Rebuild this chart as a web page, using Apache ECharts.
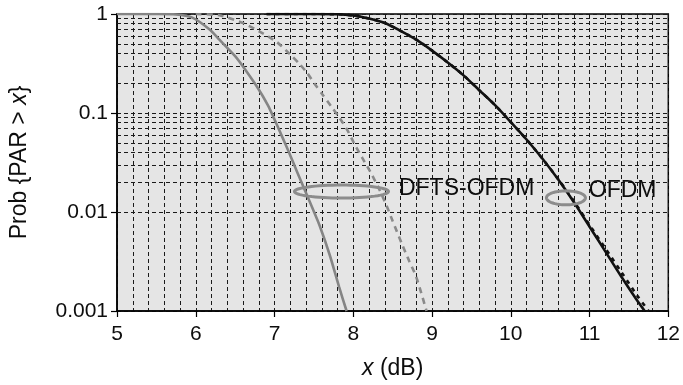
<!DOCTYPE html>
<html>
<head>
<meta charset="utf-8">
<title>PAR CCDF: OFDM vs DFTS-OFDM</title>
<script src="https://cdn.jsdelivr.net/npm/echarts@6/dist/echarts.min.js"></script>
<style>
  html, body { margin: 0; padding: 0; background: #fff; }
  #chart { width: 683px; height: 385px; }
</style>
</head>
<body>
<div id="chart"></div>
<script>
// x axis: peak-to-average ratio threshold (dB)
var xTicks = [5, 6, 7, 8, 9, 10, 11, 12];
// y axis: decades of the log scale and their printed labels
var yTicks = [0.001, 0.01, 0.1, 1];
var yTickLabels = ['0.001', '0.01', '0.1', '1'];
// minor log grid values (2..9 per decade)
var yMinor = [
  0.002, 0.003, 0.004, 0.005, 0.006, 0.007, 0.008, 0.009,
  0.02, 0.03, 0.04, 0.05, 0.06, 0.07, 0.08, 0.09,
  0.2, 0.3, 0.4, 0.5, 0.6, 0.7, 0.8, 0.9
];

// DFTS-OFDM, localized mapping (light grey solid)
var locX = [5.0, 5.5, 5.75, 5.95, 6.18, 6.3, 6.5, 6.62, 6.79, 6.915, 7.0, 7.085, 7.19, 7.275, 7.38, 7.485, 7.57, 7.7, 7.82, 7.915];
var locY = [1.0, 0.9995, 0.99, 0.925, 0.695, 0.55, 0.375, 0.28, 0.178, 0.12, 0.086, 0.0605, 0.039, 0.0267, 0.017, 0.0108, 0.0074, 0.0037, 0.00175, 0.001];

// DFTS-OFDM, distributed mapping (grey dashed)
var distX = [6.0, 6.3, 6.59, 6.81, 7.03, 7.2, 7.316, 7.42, 7.506, 7.611, 7.718, 7.823, 7.928, 8.013, 8.118, 8.224, 8.329, 8.422, 8.5, 8.62, 8.71, 8.8, 8.93];
var distY = [1.0, 0.97, 0.815, 0.665, 0.52, 0.39, 0.314, 0.25, 0.199, 0.153, 0.117, 0.090, 0.0664, 0.049, 0.0348, 0.0248, 0.017, 0.0116, 0.0081, 0.0047, 0.0032, 0.0022, 0.001];

// OFDM (black solid)
var ofdmX = [6.9, 7.4, 7.8, 8.0, 8.2, 8.4, 8.6, 8.8, 9.0, 9.2, 9.4, 9.6, 9.8, 10.0, 10.2, 10.4, 10.6, 10.8, 11.0, 11.2, 11.4, 11.6, 11.7];
var ofdmY = [1.0, 0.999, 0.995, 0.965, 0.90, 0.81, 0.676, 0.55, 0.427, 0.324, 0.240, 0.170, 0.120, 0.081, 0.054, 0.0347, 0.0214, 0.0126, 0.0071, 0.0040, 0.00224, 0.00129, 0.001];

// OFDM, second configuration (black dashed)
var ofdm2X = [6.9, 7.4, 7.8, 8.0, 8.2, 8.4, 8.6, 8.8, 9.0, 9.2, 9.4, 9.6, 9.8, 10.0, 10.2, 10.4, 10.6, 10.8, 11.0, 11.2, 11.4, 11.6, 11.75];
var ofdm2Y = [1.0, 0.999, 0.995, 0.965, 0.90, 0.81, 0.676, 0.55, 0.427, 0.324, 0.240, 0.170, 0.120, 0.081, 0.054, 0.0347, 0.0216, 0.0129, 0.0074, 0.0043, 0.0025, 0.00145, 0.001];

// curve-group annotations
var noteLabels = ['DFTS-OFDM', 'OFDM'];

function zip(xs, ys) {
  return xs.map(function (x, i) { return [x, ys[i]]; });
}

var FONT = 'Liberation Sans';
var gridDash = { color: '#1a1a1a', width: 1, type: [4, 3] };

// ellipse centre (data), ellipse radii (px) and label anchor (data) per annotation
var noteLayout = [
  { c: [7.85, 0.0161], rx: 47, ry: 6.5, t: [8.58, 0.0172] },
  { c: [10.70, 0.0139], rx: 19.5, ry: 7, t: [10.99, 0.0163] }
];

var chart = echarts.init(document.getElementById('chart'), null, { renderer: 'canvas' });

chart.setOption({
  animation: false,
  backgroundColor: '#fff',
  grid: {
    left: 117, right: 13, top: 14, bottom: 67,
    show: true,
    backgroundColor: '#e5e5e5',
    borderColor: '#000',
    borderWidth: 1.5
  },
  xAxis: {
    type: 'value',
    min: xTicks[0],
    max: xTicks[xTicks.length - 1],
    interval: 1,
    name: '{i|x} (dB)',
    nameLocation: 'middle',
    nameGap: 46,
    nameTextStyle: {
      fontFamily: FONT, fontSize: 23, color: '#0d0d0d',
      rich: { i: { fontFamily: FONT, fontSize: 23, fontStyle: 'italic', color: '#0d0d0d' } }
    },
    axisLine: { show: true, lineStyle: { color: '#000', width: 1.5 } },
    axisTick: { show: true, inside: false, length: 6, lineStyle: { color: '#000', width: 1.2 } },
    axisLabel: { fontFamily: FONT, fontSize: 21, color: '#0d0d0d', margin: 13 },
    splitLine: { show: true, lineStyle: gridDash },
    minorTick: { show: false, splitNumber: 5 },
    minorSplitLine: { show: true, lineStyle: gridDash }
  },
  yAxis: {
    type: 'log',
    logBase: 10,
    min: yTicks[0],
    max: yTicks[yTicks.length - 1],
    splitNumber: 3,
    name: 'Prob {PAR > {i|x}}',
    nameLocation: 'middle',
    nameGap: 86,
    nameTextStyle: {
      fontFamily: FONT, fontSize: 23, color: '#0d0d0d',
      rich: { i: { fontFamily: FONT, fontSize: 23, fontStyle: 'italic', color: '#0d0d0d' } }
    },
    axisLine: { show: true, lineStyle: { color: '#000', width: 1.5 } },
    axisTick: { show: true, inside: false, length: 6, lineStyle: { color: '#000', width: 1.2 } },
    axisLabel: {
      fontFamily: FONT, fontSize: 21, color: '#0d0d0d', margin: 9,
      formatter: function (v) {
        for (var i = 0; i < yTicks.length; i++) {
          if (Math.abs(Math.log10(v) - Math.log10(yTicks[i])) < 1e-6) return yTickLabels[i];
        }
        return '';
      }
    },
    splitLine: { show: true, lineStyle: gridDash }
  },
  series: [
    {
      // minor log grid lines
      type: 'line',
      data: [],
      z: 1,
      silent: true,
      markLine: {
        silent: true,
        symbol: ['none', 'none'],
        label: { show: false },
        lineStyle: gridDash,
        emphasis: { disabled: true },
        data: yMinor.map(function (v) { return { yAxis: v }; })
      }
    },
    {
      name: 'DFTS-OFDM localized',
      type: 'line',
      data: zip(locX, locY),
      smooth: 0.25,
      showSymbol: false,
      z: 5,
      lineStyle: { color: '#858585', width: 2.6 }
    },
    {
      name: 'DFTS-OFDM distributed',
      type: 'line',
      data: zip(distX, distY),
      smooth: 0.25,
      showSymbol: false,
      z: 5,
      lineStyle: { color: '#8a8a8a', width: 2.6, type: [6, 5] }
    },
    {
      name: 'OFDM (dashed)',
      type: 'line',
      data: zip(ofdm2X, ofdm2Y),
      smooth: 0.25,
      showSymbol: false,
      z: 5,
      lineStyle: { color: '#111', width: 2.6, type: [4, 5] }
    },
    {
      name: 'OFDM',
      type: 'line',
      data: zip(ofdmX, ofdmY),
      smooth: 0.25,
      showSymbol: false,
      z: 6,
      lineStyle: { color: '#111', width: 2.6 }
    },
    {
      // ellipses grouping the curves, with their labels
      type: 'custom',
      z: 7,
      silent: true,
      clip: false,
      data: noteLayout.map(function (n) { return n.c; }),
      renderItem: function (params, api) {
        var n = noteLayout[params.dataIndex];
        var c = api.coord([api.value(0), api.value(1)]);
        var t = api.coord(n.t);
        var pts = [];
        for (var k = 0; k < 64; k++) {
          var a = k / 64 * Math.PI * 2;
          pts.push([c[0] + n.rx * Math.cos(a), c[1] + n.ry * Math.sin(a)]);
        }
        return {
          type: 'group',
          children: [
            {
              type: 'polygon',
              shape: { points: pts },
              style: { fill: 'none', stroke: '#8c8c8c', lineWidth: 3 }
            },
            {
              type: 'text',
              x: t[0], y: t[1],
              style: {
                text: noteLabels[params.dataIndex],
                fontFamily: FONT, fontSize: 23, fill: '#0d0d0d',
                align: 'left', verticalAlign: 'middle'
              }
            }
          ]
        };
      }
    }
  ]
});
</script>
</body>
</html>
